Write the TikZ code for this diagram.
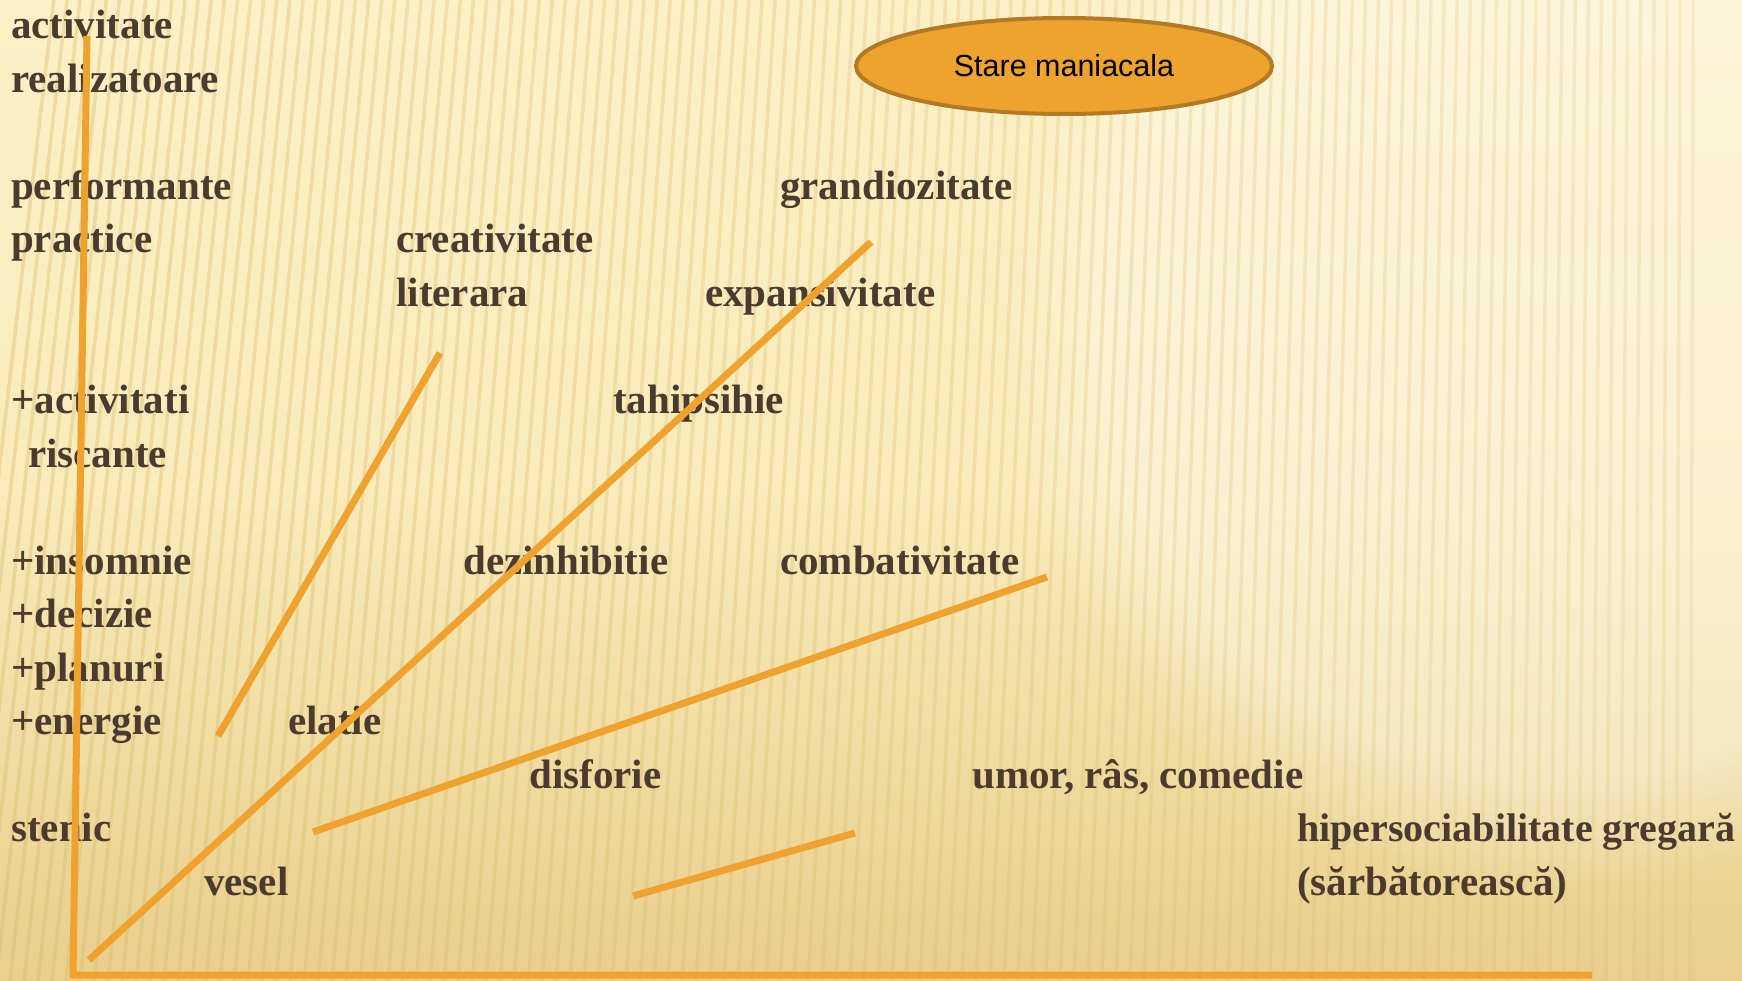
\documentclass[tikz,border=0pt]{standalone}
\usepackage{fontspec}
\setmainfont{Liberation Serif}
\newfontfamily\sansf{Liberation Sans}
\usetikzlibrary{shapes.geometric,fadings}
\definecolor{txt}{HTML}{4B3A2E}
\definecolor{orng}{HTML}{F0A22E}
\definecolor{ellfill}{HTML}{EEA32F}
\definecolor{elldraw}{HTML}{B27A22}
\definecolor{bgtop}{HTML}{FCF0C6}
\definecolor{bgmid}{HTML}{F9EBBA}
\definecolor{bgbot}{HTML}{E8CF8C}
\definecolor{stripecol}{HTML}{D9BC6E}
\begin{document}
\begin{tikzpicture}[x=1pt,y=-1pt,
  lbl/.style={anchor=base west,inner sep=0pt,text=txt,font=\fontsize{41}{48}\selectfont\bfseries},
  orline/.style={draw=orng,line width=7pt},
  ovalbox/.style={ellipse,draw=elldraw,fill=ellfill,line width=4pt,minimum width=416pt,minimum height=96pt,inner sep=0pt,font=\sansf\fontsize{30.5}{36}\selectfont,text=black}]
\useasboundingbox (0,0) rectangle (1742,981);
% background
\shade[top color=bgtop,bottom color=bgbot,middle color=bgmid] (0,0) rectangle (1742,981);
\fill[white,opacity=0.35,path fading=circle with fuzzy edge 20 percent] (1560,330) circle (560);
\foreach \i in {0,...,125}{
  \pgfmathsetmacro\xb{\i*14-60}
  \pgfmathsetmacro\xt{\xb+110*(1-\xb/1742)}
  \pgfmathsetmacro\op{0.38-0.2*\xb/1742}
  \draw[stripecol,opacity=\op,line width=3.5pt] (\xt,0) -- (\xb,981);
}
% title ellipse
\node[ovalbox] (stare) at (1064,66) {\raisebox{-2pt}{Stare maniacala}};
% labels, baseline = 39 + 53.5 k
\node[lbl] (t0) at (11,39) {activitate};
\node[lbl] (t1) at (11,92.5) {realizatoare};
\node[lbl] (t3) at (11,199.5) {performante};
\node[lbl] (t4) at (11,253) {practice};
\node[lbl] (t7) at (11,413.5) {+activitati};
\node[lbl] (t8) at (28,467) {riscante};
\node[lbl] (t10) at (11,574) {+insomnie};
\node[lbl] (t11) at (11,627.5) {+decizie};
\node[lbl] (t12) at (11,681) {+planuri};
\node[lbl] (t13) at (11,734.5) {+energie};
\node[lbl] (t15) at (11,841.5) {stenic};
\node[lbl] (grand) at (780,199.5) {grandiozitate};
\node[lbl] (creat) at (396,253) {creativitate};
\node[lbl] (liter) at (396,306.5) {literara};
\node[lbl] (expan) at (705,306.5) {expansivitate};
\node[lbl] (tahi) at (613,413.5) {tahipsihie};
\node[lbl] (dezi) at (463,574) {dezinhibitie};
\node[lbl] (comba) at (780,574) {combativitate};
\node[lbl] (elat) at (288,734.5) {elatie};
\node[lbl] (disf) at (529,788) {disforie};
\node[lbl] (umor) at (972,788) {umor, râs, comedie};
\node[lbl,font=\fontsize{40}{48}\selectfont\bfseries] (hiper) at (1297,841.5) {hipersociabilitate gregară};
\node[lbl] (sarb) at (1297,895) {(sărbătorească)};
\node[lbl] (vesel) at (204,895) {vesel};
% line end points
\coordinate (axtop) at (87,36);
\coordinate (axorig) at (73,975);
\coordinate (axright) at (1592,975);
\coordinate (l1a) at (218,736);
\coordinate (l1b) at (440,353);
\coordinate (l2a) at (89,960);
\coordinate (l2b) at (871,242);
\coordinate (l3a) at (313,832);
\coordinate (l3b) at (1047,577);
\coordinate (l4a) at (633,896);
\coordinate (l4b) at (855,833);
% lines
\draw[orline,line join=miter] (axtop) -- (axorig) -- (axright);
\draw[orline] (l1a) -- (l1b);
\draw[orline] (l2a) -- (l2b);
\draw[orline] (l3a) -- (l3b);
\draw[orline] (l4a) -- (l4b);
\end{tikzpicture}
\end{document}
